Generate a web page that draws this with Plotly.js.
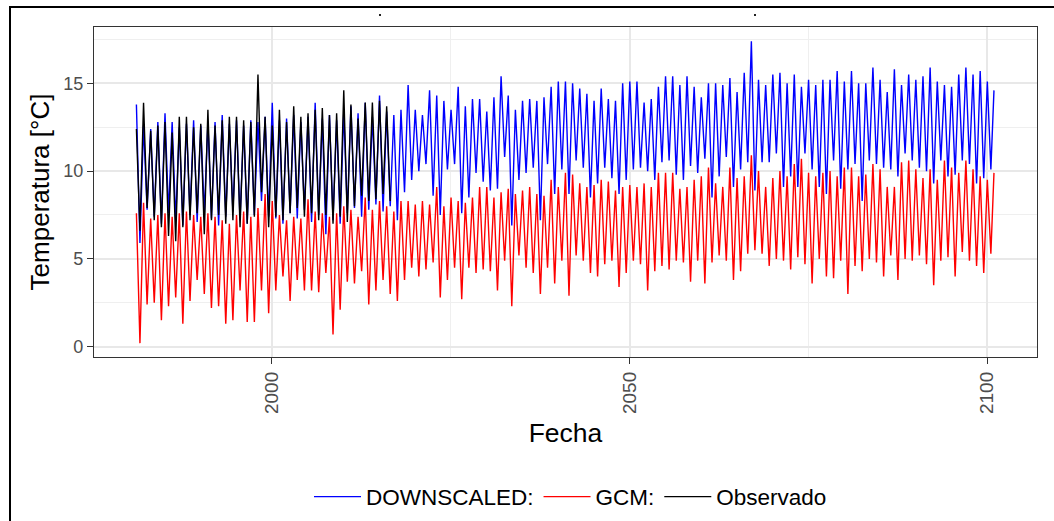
<!DOCTYPE html>
<html>
<head>
<meta charset="utf-8">
<script src="https://cdn.plot.ly/plotly-3.0.1.min.js"></script>
<style>
  html, body { margin: 0; padding: 0; background: #ffffff; }
  #chart { width: 1054px; height: 521px; }
</style>
</head>
<body>
<div id="chart"></div>
<script>
// Years covered by the projections (one summer peak and one winter trough read per year)
const years = [];
for (let y = 1981; y <= 2100; y++) years.push(y);
const obsYears = years.filter(y => y <= 2016);

// DOWNSCALED: yearly peak (around January) and trough (around July), °C
const downscaledPeak = [
  13.8, 12.6, 12.4, 12.8, 13.3, 12.8, 12.5, 12.7, 12.9, 12.6,
  12.8, 12.8, 13.2, 12.7, 12.9, 12.6, 12.9, 12.8, 13.1, 13.9,
  12.9, 13.0, 13.2, 12.8, 13.1, 13.9, 13.0, 13.2, 12.9, 13.4,
  13.7, 13.3, 13.9, 13.1, 14.3, 13.4, 13.2, 13.5, 14.9, 13.5,
  13.2, 14.6, 14.3, 14.0, 13.5, 14.8, 13.7, 14.1, 14.1, 13.4,
  14.2, 15.4, 14.3, 13.5, 14.0, 14.1, 14.0, 14.2, 14.8, 15.1,
  15.1, 15.0, 14.7, 14.4, 14.0, 14.7, 14.1, 14.0, 15.0, 15.1,
  15.1, 13.9, 14.1, 14.8, 15.4, 15.4, 14.9, 15.4, 14.8, 14.2,
  15.0, 15.0, 14.9, 15.3, 14.5, 15.6, 17.4, 15.2, 14.9, 15.5,
  15.6, 15.0, 15.5, 14.8, 15.2, 14.9, 15.2, 15.2, 15.7, 15.1,
  15.7, 15.0, 15.0, 15.9, 15.2, 14.5, 15.8, 14.9, 15.5, 15.2,
  15.4, 15.9, 15.1, 14.9, 14.8, 15.5, 15.9, 15.5, 15.7, 15.1
];
const downscaledTrough = [
  5.9, 7.8, 7.4, 7.0, 7.6, 7.2, 6.9, 7.5, 7.1, 7.6,
  7.3, 6.9, 7.4, 7.7, 7.2, 7.0, 7.5, 8.3, 7.4, 7.3,
  7.0, 7.6, 7.3, 7.8, 7.1, 7.5, 6.4, 7.2, 7.0, 7.6,
  7.9, 7.4, 7.8, 8.1, 7.7, 8.0, 7.2, 8.8, 9.5, 10.0,
  10.4, 8.6, 7.5, 10.1, 10.4, 7.6, 8.5, 9.9, 9.4, 8.9,
  9.0, 10.8, 6.9, 9.5, 9.9, 10.2, 7.2, 10.4, 8.7, 10.1,
  8.7, 10.6, 10.2, 8.5, 9.3, 10.2, 9.6, 8.7, 9.5, 10.1,
  10.2, 10.0, 9.5, 10.5, 10.6, 9.8, 9.5, 10.3, 9.9, 10.7,
  8.5, 9.7, 10.8, 9.1, 10.1, 10.5, 8.9, 10.5, 10.5, 11.0,
  9.1, 9.7, 9.1, 11.0, 10.1, 9.1, 8.7, 10.6, 9.0, 10.1,
  10.4, 8.3, 10.6, 10.4, 10.2, 10.1, 9.7, 11.0, 10.6, 10.2,
  10.0, 9.3, 10.6, 9.7, 9.8, 10.6, 10.4, 9.3, 9.6, 10.1
];

// GCM: yearly peak and trough, °C
const gcmPeak = [
  7.6, 8.2, 7.3, 7.5, 7.6, 7.4, 7.6, 7.7, 7.5, 7.4,
  7.6, 7.4, 7.2, 7.0, 7.5, 7.7, 7.4, 7.9, 8.7, 8.3,
  7.5, 7.2, 7.4, 7.3, 8.4, 7.7, 7.6, 7.4, 7.6, 8.0,
  7.8, 7.4, 8.5, 7.8, 8.3, 8.0, 7.7, 8.3, 8.3, 8.1,
  8.3, 8.1, 9.1, 8.0, 8.5, 8.3, 8.2, 8.5, 9.1, 9.1,
  8.5, 8.8, 9.0, 8.7, 8.9, 9.1, 8.7, 8.6, 9.5, 9.1,
  9.9, 9.8, 9.3, 9.1, 9.2, 9.5, 9.4, 8.9, 9.1, 9.2,
  9.1, 9.3, 9.1, 9.9, 9.9, 9.9, 9.0, 9.1, 9.5, 9.7,
  10.2, 9.3, 9.1, 10.2, 9.6, 9.7, 10.9, 10.0, 9.1, 9.6,
  10.0, 9.7, 10.4, 10.7, 9.9, 9.7, 9.9, 10.0, 9.7, 10.2,
  10.2, 9.7, 9.8, 10.4, 10.1, 9.1, 9.1, 10.5, 10.6, 10.1,
  9.6, 10.1, 9.5, 10.6, 10.2, 9.9, 10.6, 10.1, 9.7, 9.5
];
const gcmTrough = [
  0.2, 2.4, 2.5, 1.5, 2.3, 2.8, 1.3, 2.6, 3.8, 3.0,
  2.2, 2.3, 1.3, 1.5, 3.2, 1.4, 1.4, 3.2, 1.9, 3.2,
  4.0, 2.6, 3.8, 3.2, 3.2, 3.1, 4.2, 0.7, 2.1, 3.7,
  3.6, 4.3, 2.4, 3.2, 3.8, 3.0, 2.6, 3.8, 4.5, 4.0,
  4.4, 4.8, 2.8, 3.8, 4.5, 2.7, 4.5, 4.2, 4.4, 4.3,
  3.2, 4.9, 2.3, 5.2, 4.5, 4.2, 3.0, 4.5, 3.6, 4.9,
  2.9, 5.2, 4.9, 4.2, 4.0, 4.7, 4.9, 3.4, 4.2, 4.9,
  4.7, 3.2, 4.3, 4.6, 4.4, 4.9, 4.8, 3.7, 4.9, 3.6,
  4.8, 5.2, 4.9, 3.8, 4.3, 5.3, 5.5, 5.3, 4.6, 5.0,
  4.9, 4.4, 5.1, 4.7, 3.6, 5.0, 4.0, 3.9, 4.9, 3.0,
  4.6, 4.3, 5.0, 4.8, 4.0, 5.2, 3.8, 5.0, 4.9, 5.2,
  4.7, 3.5, 4.9, 5.1, 4.0, 5.4, 4.9, 4.6, 4.2, 5.3
];

// Observado: yearly peak and trough, 1981-2016, °C
const obsPeak = [
  12.4, 13.9, 12.3, 12.6, 12.8, 12.2, 13.1, 13.1, 12.5, 12.7,
  13.5, 12.6, 12.9, 13.1, 13.1, 12.9, 12.8, 15.5, 13.1, 12.6,
  13.5, 12.8, 13.7, 13.1, 13.3, 13.5, 13.6, 13.2, 13.3, 14.6,
  13.8, 13.0, 13.9, 13.9, 14.0, 13.7
];
const obsTrough = [
  6.6, 7.9, 7.2, 6.8, 6.3, 6.0, 6.8, 7.2, 7.6, 6.4,
  7.2, 7.5, 7.0, 7.2, 6.8, 7.0, 7.4, 8.8, 6.8, 7.4,
  7.2, 7.6, 7.9, 7.4, 7.6, 7.2, 7.5, 7.0, 7.4, 7.1,
  8.0, 8.6, 8.3, 8.4, 8.7, 8.3
];

// Last month of the projections (December 2100)
const endDate = '2100-12-20';
const downscaledEnd = 14.6;
const gcmEnd = 9.9;

const seriesNames = ['DOWNSCALED:', 'GCM:', 'Observado'];
const seriesColors = ['#0000FF', '#FF0000', '#000000'];

function buildSeries(yrs, peaks, troughs, lastDate, lastVal) {
  const x = [], y = [];
  yrs.forEach((yr, i) => {
    x.push(yr + '-01-15'); y.push(peaks[i]);
    x.push(yr + '-07-15'); y.push(troughs[i]);
  });
  if (lastDate !== undefined) { x.push(lastDate); y.push(lastVal); }
  return {x, y};
}

const ds = buildSeries(years, downscaledPeak, downscaledTrough, endDate, downscaledEnd);
const gcm = buildSeries(years, gcmPeak, gcmTrough, endDate, gcmEnd);
const obs = buildSeries(obsYears, obsPeak, obsTrough);

const traces = [ds, gcm, obs].map((s, i) => ({
  type: 'scatter', mode: 'lines',
  x: s.x, y: s.y, name: seriesNames[i],
  line: {color: seriesColors[i], width: 1.4},
  hoverinfo: 'x+y+name'
}));

const W = 1054, H = 521;
const L = 94, R = 17, T = 27, B = 164;
const pw = W - L - R, ph = H - T - B;
const px = v => (v - L) / pw;
const py = v => (H - B - v) / ph;

const font = 'Liberation Sans, Arial, sans-serif';

const layout = {
  width: W, height: H,
  margin: {l: L, r: R, t: T, b: B, pad: 0, autoexpand: false},
  paper_bgcolor: '#ffffff', plot_bgcolor: '#ffffff',
  font: {family: font, color: '#000000'},
  showlegend: true,
  legend: {
    orientation: 'h', xref: 'container', yref: 'container',
    x: 309 / W, xanchor: 'left', y: (H - 497) / H, yanchor: 'middle',
    font: {family: font, size: 22.5, color: '#000000'},
    itemwidth: 47, bgcolor: 'rgba(0,0,0,0)', traceorder: 'normal'
  },
  xaxis: {
    type: 'date', automargin: false,
    range: ['1975-02-10', '2106-12-27'],
    tickmode: 'array',
    tickvals: ['2000-01-01', '2050-01-01', '2100-01-01'],
    ticktext: ['2000', '2050', '2100'],
    tickangle: -90,
    ticks: 'outside', ticklen: 6, tickwidth: 1.2, tickcolor: '#333333',
    tickfont: {family: font, size: 19, color: '#4d4d4d'},
    showgrid: true, gridcolor: '#e8e8e8', gridwidth: 1.6,
    minor: {tickmode: 'array', tickvals: ['2025-01-01', '2075-01-01'], showgrid: true, gridcolor: '#efefef', gridwidth: 0.9, ticks: ''},
    showline: true, mirror: true, linecolor: '#333333', linewidth: 1.3,
    zeroline: false,
    title: {text: 'Fecha', font: {family: font, size: 26.5, color: '#000000'}, standoff: 10}
  },
  yaxis: {
    automargin: false,
    range: [-0.59, 18.21],
    tickmode: 'array', tickvals: [0, 5, 10, 15], ticktext: ['0', '5', '10', '15'],
    ticks: 'outside', ticklen: 6, tickwidth: 1.2, tickcolor: '#333333',
    tickfont: {family: font, size: 18, color: '#4d4d4d'},
    showgrid: true, gridcolor: '#e8e8e8', gridwidth: 1.6,
    minor: {tickmode: 'array', tickvals: [2.5, 7.5, 12.5, 17.5], showgrid: true, gridcolor: '#efefef', gridwidth: 0.9, ticks: ''},
    showline: true, mirror: true, linecolor: '#333333', linewidth: 1.3,
    zeroline: false,
    title: {text: 'Temperatura [°C]', font: {family: font, size: 26, color: '#000000'}, standoff: 6}
  },
  shapes: [
    {type: 'line', xref: 'paper', yref: 'paper', x0: px(10), x1: px(10), y0: py(6), y1: py(530), line: {color: '#000000', width: 2}},
    {type: 'line', xref: 'paper', yref: 'paper', x0: px(9), x1: px(1060), y0: py(7), y1: py(7), line: {color: '#000000', width: 2}},
    {type: 'rect', xref: 'paper', yref: 'paper', x0: px(379), x1: px(381), y0: py(14), y1: py(16), fillcolor: '#222222', line: {width: 0}},
    {type: 'rect', xref: 'paper', yref: 'paper', x0: px(754), x1: px(756), y0: py(14), y1: py(16), fillcolor: '#222222', line: {width: 0}}
  ]
};

Plotly.newPlot('chart', traces, layout, {displayModeBar: false, responsive: false});
</script>
</body>
</html>
